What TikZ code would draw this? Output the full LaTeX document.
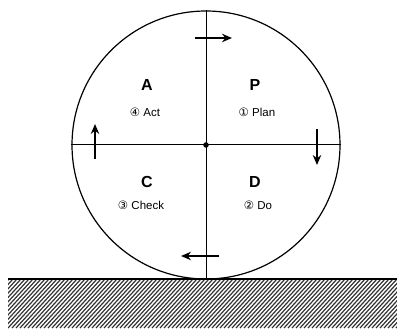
\documentclass[tikz,border=0pt]{standalone}
\usepackage{fontspec}
\setmainfont{Liberation Sans}
\newfontfamily\symfont{DejaVu Sans}
\usetikzlibrary{arrows.meta}
\begin{document}
\begin{tikzpicture}[x=1pt,y=1pt,
  flow/.style={line width=1.4pt,-{Stealth[length=10pt,width=8.5pt]}},
  head/.style={font=\bfseries\fontsize{16}{16}\selectfont},
  sub/.style={font=\fontsize{11.5}{11.5}\selectfont},
  hatch/.style={line width=1.2pt,draw=black!80}]
\useasboundingbox (0,0) rectangle (397,330);
% ground hatching
\begin{scope}
\clip (8,2) rectangle (397,51);
\foreach \i in {-60,-56,...,400} {
  \draw[hatch] (\i,2) -- ++(45,49);
}
\end{scope}
\coordinate (gl) at (8,51);
\coordinate (gr) at (397,51);
\draw[line width=1.2pt] (gl) -- (gr);
% wheel
\node[circle,draw,line width=1.2pt,minimum size=268pt,inner sep=0pt] (wheel) at (206,185) {};
\draw[line width=1pt] (wheel.north) -- (wheel.south);
\draw[line width=1pt] (wheel.west) -- (wheel.east);
\node[circle,fill,inner sep=0pt,minimum size=5.5pt] (hub) at (wheel.center) {};
% arrows
\coordinate (t1) at (195,292); \coordinate (t2) at (232,292);
\coordinate (r1) at (317,201); \coordinate (r2) at (317,165);
\coordinate (b1) at (219,74);  \coordinate (b2) at (181,74);
\coordinate (l1) at (95,171);  \coordinate (l2) at (95,206);
\draw[flow] (t1) -- (t2);
\draw[flow] (r1) -- (r2);
\draw[flow] (b1) -- (b2);
\draw[flow] (l1) -- (l2);
% labels
\node[head] (A) at (147,245) {A};
\node[sub] (act) at (145,218) {{\symfont ④} Act};
\node[head] (P) at (255,245) {P};
\node[sub] (plan) at (257,218) {{\symfont ①} Plan};
\node[head] (C) at (147,148) {C};
\node[sub] (check) at (141,125) {{\symfont ③} Check};
\node[head] (D) at (255,148) {D};
\node[sub] (do) at (258,125) {{\symfont ②} Do};
\end{tikzpicture}
\end{document}
